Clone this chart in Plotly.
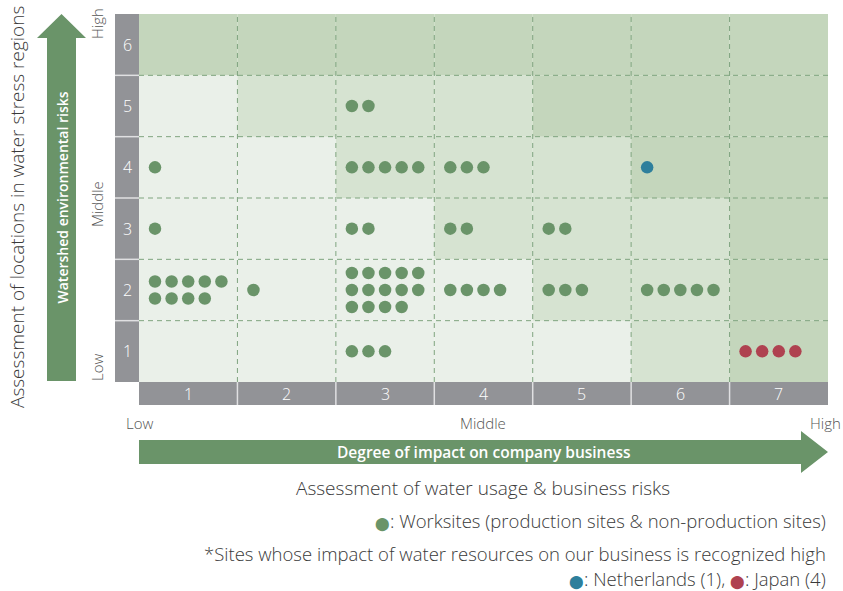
import math
import plotly.graph_objects as go

# ---------------- data ----------------
x_categories = [1, 2, 3, 4, 5, 6, 7]
y_categories = [1, 2, 3, 4, 5, 6]
x_tick_labels = ["1", "2", "3", "4", "5", "6", "7"]
y_tick_labels = ["1", "2", "3", "4", "5", "6"]

# worksite counts: (x, y, count)
worksites_x = [1, 1, 1, 2, 3, 3, 3, 3, 3, 4, 4, 4, 5, 5, 6]
worksites_y = [4, 3, 2, 2, 5, 4, 3, 2, 1, 4, 3, 2, 3, 2, 2]
worksites_n = [1, 1, 9, 1, 2, 5, 2, 14, 3, 3, 2, 4, 2, 3, 5]

netherlands_x = [6]
netherlands_y = [4]
netherlands_n = [1]

japan_x = [7]
japan_y = [1]
japan_n = [4]

# risk level of each cell (rows bottom->top, cols 1..7): 0 low, 1 mid, 2 high
cell_levels = [
    [0, 0, 0, 0, 0, 1, 2],
    [0, 0, 0, 0, 1, 1, 2],
    [0, 0, 0, 1, 1, 1, 2],
    [0, 0, 1, 1, 1, 2, 2],
    [0, 1, 1, 1, 2, 2, 2],
    [2, 2, 2, 2, 2, 2, 2],
]

# ---------------- style ----------------
W, H = 843, 591
L, R, T, B = 115, 15, 14, 186
PW, PH = W - L - R, H - T - B
level_colors = ["#EAF0E9", "#D6E3D1", "#C4D6BC"]
GREEN = "#6A9469"
TEAL = "#2E7F9C"
RED = "#AF4250"
GREY = "#929397"
TXT = "#3a3a3a"
FONT = "Open Sans"

unit_x = 689 / 7.0
unit_y = 368 / 6.0
x_range = [0.5 - 24 / unit_x, 7.5]
y_range = [0.5 - 23 / unit_y, 6.5]


def px(x):
    return (x - L) / PW


def py(y):
    return (H - B - y) / PH


def dot_positions(xs, ys, ns):
    ox, oy = [], []
    step_x = 16.6 / unit_x
    step_y = 17.0 / unit_y
    off = 16.0 / unit_x
    for c, r, n in zip(xs, ys, ns):
        rows = math.ceil(n / 5)
        for i in range(n):
            ri, ci = divmod(i, 5)
            ox.append(c - 0.5 + off + ci * step_x)
            oy.append(r + ((rows - 1) / 2 - ri) * step_y)
    return ox, oy


fig = go.Figure()
shapes = []
annotations = []

# cells
for ri, row in enumerate(cell_levels):
    r = y_categories[ri]
    for ci, lvl in enumerate(row):
        c = x_categories[ci]
        shapes.append(dict(type="rect", xref="x", yref="y", x0=c - 0.5, x1=c + 0.5,
                           y0=r - 0.5, y1=r + 0.5, fillcolor=level_colors[lvl],
                           line=dict(width=0), layer="below"))

# grey bars
shapes.append(dict(type="rect", xref="x", yref="y", x0=x_range[0], x1=0.5, y0=0.5, y1=6.5,
                   fillcolor=GREY, line=dict(width=0), layer="below"))
shapes.append(dict(type="rect", xref="x", yref="y", x0=0.5, x1=7.5, y0=y_range[0], y1=0.5,
                   fillcolor=GREY, line=dict(width=0), layer="below"))

# dashed grid
for c in x_categories[:-1]:
    shapes.append(dict(type="line", xref="x", yref="y", x0=c + 0.5, x1=c + 0.5, y0=0.5, y1=6.5,
                       line=dict(color="#7FA47F", width=1, dash="5px,4px"), layer="below"))
    shapes.append(dict(type="line", xref="x", yref="y", x0=c + 0.5, x1=c + 0.5, y0=y_range[0], y1=0.5,
                       line=dict(color="#E0E0E2", width=1.5), layer="below"))
for r in y_categories[:-1]:
    shapes.append(dict(type="line", xref="x", yref="y", x0=0.5, x1=7.5, y0=r + 0.5, y1=r + 0.5,
                       line=dict(color="#7FA47F", width=1, dash="5px,4px"), layer="below"))
    shapes.append(dict(type="line", xref="x", yref="y", x0=x_range[0], x1=0.5, y0=r + 0.5, y1=r + 0.5,
                       line=dict(color="#E0E0E2", width=1.5), layer="below"))

# tick labels in grey bars
for c, lab in zip(x_categories, x_tick_labels):
    annotations.append(dict(x=c, y=(y_range[0] + 0.5) / 2, xref="x", yref="y", text=lab,
                            font=dict(family=FONT, size=16, color="white", weight=300)))
for r, lab in zip(y_categories, y_tick_labels):
    annotations.append(dict(x=(x_range[0] + 0.5) / 2, y=r, xref="x", yref="y", text=lab,
                            font=dict(family=FONT, size=16, color="white", weight=300)))

# dots
for xs, ys, ns, col, name in [(worksites_x, worksites_y, worksites_n, GREEN, "Worksites"),
                               (netherlands_x, netherlands_y, netherlands_n, TEAL, "Netherlands"),
                               (japan_x, japan_y, japan_n, RED, "Japan")]:
    ox, oy = dot_positions(xs, ys, ns)
    fig.add_trace(go.Scatter(x=ox, y=oy, mode="markers", name=name,
                             marker=dict(size=12.5, color=col, line=dict(width=0)),
                             hoverinfo="skip"))


def path_from(points):
    return "M " + " L ".join(f"{px(a):.5f},{py(b):.5f}" for a, b in points) + " Z"


# vertical arrow
v_arrow = [(47, 381), (47, 38), (37, 38), (61.5, 14), (86, 38), (76, 38), (76, 381)]
shapes.append(dict(type="path", xref="paper", yref="paper", path=path_from(v_arrow),
                   fillcolor=GREEN, line=dict(width=0)))
# horizontal arrow
h_arrow = [(139, 440), (801, 440), (801, 431), (828, 452), (801, 473), (801, 464), (139, 464)]
shapes.append(dict(type="path", xref="paper", yref="paper", path=path_from(h_arrow),
                   fillcolor=GREEN, line=dict(width=0)))

LIGHT = dict(family=FONT, size=15, color="#555", weight=300)
DOT = "font-family:DejaVu Sans;font-size:13px"
annotations += [
    dict(x=px(61.5), y=py(198), text="Watershed environmental risks", textangle=-90,
         font=dict(family=FONT, size=14, color="white", weight=600)),
    dict(x=px(483), y=py(452), text="Degree of impact on company business",
         font=dict(family=FONT, size=15.5, color="white", weight=600)),
    dict(x=px(17), y=py(207), text="Assessment of locations in water stress regions", textangle=-90,
         font=dict(family=FONT, size=19, color=TXT, weight=300)),
    dict(x=px(97), y=py(24), text="High", textangle=-90, font=LIGHT),
    dict(x=px(97), y=py(204), text="Middle", textangle=-90, font=LIGHT),
    dict(x=px(97), y=py(368), text="Low", textangle=-90, font=LIGHT),
    dict(x=px(139), y=py(423), text="Low", font=LIGHT),
    dict(x=px(483), y=py(423), text="Middle", font=LIGHT),
    dict(x=px(843), y=py(423), text="High", xanchor="right", font=LIGHT),
    dict(x=px(483), y=py(488), text="Assessment of water usage &amp; business risks",
         font=dict(family=FONT, size=19, color=TXT, weight=300)),
    dict(x=px(828), y=py(520), xanchor="right",
         text=f"<span style='color:{GREEN};{DOT}'>⬤</span>: Worksites (production sites &amp; non-production sites)",
         font=dict(family=FONT, size=18.5, color=TXT, weight=300)),
    dict(x=px(828), y=py(553), xanchor="right",
         text="*Sites whose impact of water resources on our business is recognized high",
         font=dict(family=FONT, size=18.5, color=TXT, weight=300)),
    dict(x=px(828), y=py(578), xanchor="right",
         text=f"<span style='color:{TEAL};{DOT}'>⬤</span>: Netherlands (1), <span style='color:{RED};{DOT}'>⬤</span>: Japan (4)",
         font=dict(family=FONT, size=18.5, color=TXT, weight=300)),
]
for a in annotations:
    a.setdefault("showarrow", False)
    a.setdefault("xref", "paper")
    a.setdefault("yref", "paper")
    a.setdefault("xanchor", "center")
    a.setdefault("yanchor", "middle")

fig.update_layout(
    width=W, height=H,
    margin=dict(l=L, r=R, t=T, b=B, pad=0, autoexpand=False),
    paper_bgcolor="white", plot_bgcolor="white",
    showlegend=False,
    xaxis=dict(range=x_range, visible=False, fixedrange=True),
    yaxis=dict(range=y_range, visible=False, fixedrange=True),
    shapes=shapes, annotations=annotations,
    font=dict(family=FONT, color=TXT),
)

fig.write_html("out.html", config={"displayModeBar": False},
               post_script="document.body.style.margin='0';document.body.style.overflow='hidden';")
